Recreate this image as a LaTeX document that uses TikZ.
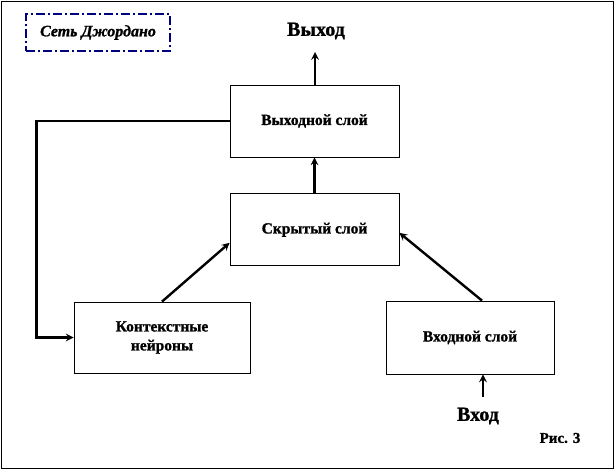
\documentclass[tikz,border=0pt]{standalone}
\usepackage{fontspec}
\setmainfont{Liberation Serif}[BoldFeatures={FakeBold=1.2},BoldItalicFeatures={FakeBold=1.2}]
\usetikzlibrary{positioning}
\usetikzlibrary{arrows}

\begin{document}
\begin{tikzpicture}[
	  x=1pt, y=-1pt,
	  %style for arrows
	  arrw/.style={line width=2.4pt, ->, >=stealth},
	  % style for layer boxes
	  lay/.style={rectangle, draw=black, line width=0.8pt, minimum width=169pt, minimum height=72pt, align=center, font=\fontsize{15.5}{19}\selectfont\bfseries},
	  % style for free texts
	  lbl/.style={font=\fontsize{20}{22}\selectfont\bfseries}]

      \useasboundingbox (0,0) rectangle (615,471);
      \draw[line width=0.8pt] (1,1) rectangle (613,468);

      %nodes
      \node[rectangle, draw={rgb,255:red,0;green,0;blue,128}, dash pattern=on 9pt off 3pt on 2pt off 3pt, line width=1.2pt, minimum width=144pt, minimum height=37pt, font=\fontsize{16}{18}\selectfont\bfseries\itshape](title) at (98,32.5){Сеть Джордано};
      \node[lay](outl) at (314.5,121){Выходной слой};
      \node[lay,below=36pt of outl](hid){Скрытый слой};
      \node[lay,minimum width=176pt,minimum height=71pt](ctx) at (162,337.5){Контекстные\\нейроны};
      \node[lay,minimum width=168pt,minimum height=73pt](inl) at (470,337.5){Входной слой};

      \node[lbl](outtxt) at (316,31){Выход};
      \coordinate (outtip) at (315,52);
      \node[lbl](intxt) at (478,416){Вход};
      \coordinate (inbase) at (483,397);
      \node[font=\fontsize{15}{17}\selectfont\bfseries](fig) at (560,438){Рис. 3};

      %edges
      \draw[arrw](outtip |- outl.north) -- (outtip);
      \draw[arrw](hid) -- (outl);
      \draw[arrw](inbase) -- (inbase |- inl.south);
      \draw[arrw](ctx.north) -- ([yshift=-13pt]hid.west);
      \draw[arrw]([xshift=12pt]inl.north) -- ([yshift=-3pt]hid.east);
      \draw[arrw](outl.west) -- ++(-193,0) |- (ctx.west);
\end{tikzpicture}
\end{document}
